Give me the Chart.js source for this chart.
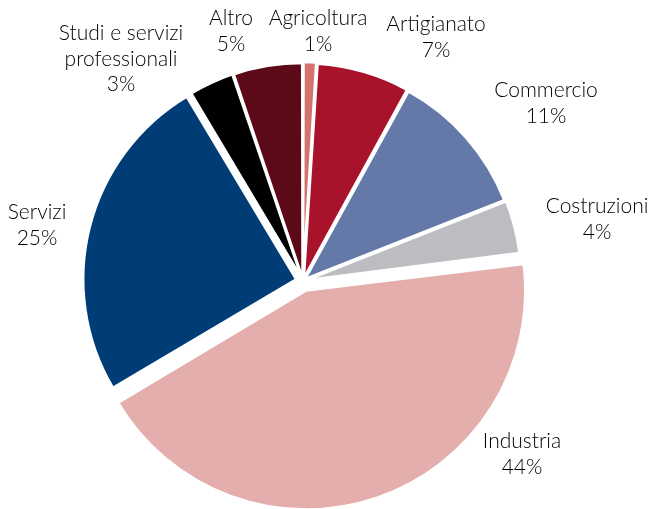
<!DOCTYPE html>
<html>
<head>
<meta charset="utf-8">
<script src="https://cdn.jsdelivr.net/npm/chart.js@4.4.0/dist/chart.umd.min.js"></script>
<style>
  html, body { margin: 0; padding: 0; background: #fff; }
  #wrap { width: 653px; height: 509px; position: relative; }
</style>
</head>
<body>
<div id="wrap"><canvas id="pieChart"></canvas></div>
<script>
var labels = ['Agricoltura', 'Artigianato', 'Commercio', 'Costruzioni', 'Industria', 'Servizi', 'Studi e servizi professionali', 'Altro']
var values = [1.0, 7.0, 11.0, 4.0, 43.5, 24.9, 3.4, 5.2]
var colors = ['#d4726e', '#a8132b', '#6479a8', '#bcbdc1', '#e3aeab', '#003d76', '#000000', '#5c0a18']
// chart.js moves an arc by offset/4
var offsets = [12, 12, 12, 12, 40, 28, 12, 12]

// label text lines and where each label block is centred
var labelLines = [
  ['Agricoltura'], ['Artigianato'], ['Commercio'], ['Costruzioni'],
  ['Industria'], ['Servizi'], ['Studi e servizi', 'professionali'], ['Altro']
]
var labelAt = [
  [318, 31], [436, 37], [546, 103], [597, 219],
  [522, 454], [37, 225], [121, 59], [231, 31]
]

var outLabels = {
  id: 'outLabels',
  afterDraw: function(chart) {
    var ctx = chart.ctx
    ctx.save()
    ctx.font = '300 21px Lato'
    ctx.fillStyle = '#000000'
    ctx.textAlign = 'center'
    ctx.textBaseline = 'middle'
    var lh = 25.5
    labels.forEach(function(l, i) {
      var lines = labelLines[i].concat([Math.round(values[i]) + '%'])
      var y0 = labelAt[i][1] - (lines.length - 1) * lh / 2
      lines.forEach(function(t, j) {
        ctx.fillText(t, labelAt[i][0], y0 + j * lh)
      })
    })
    ctx.restore()
  }
}

new Chart(document.getElementById('pieChart').getContext('2d'), {
  type: 'pie',
  data: {
    labels: labels,
    datasets: [{
      data: values,
      backgroundColor: colors,
      borderColor: '#ffffff',
      borderWidth: 2.5,
      offset: offsets,
      radius: 213,
      clip: false
    }]
  },
  options: {
    responsive: true,
    maintainAspectRatio: false,
    animation: false,
    layout: { padding: { left: 0, right: 47, top: 53, bottom: 0 } },
    plugins: { legend: { display: false }, tooltip: { enabled: false } }
  },
  plugins: [outLabels]
})
</script>
</body>
</html>
